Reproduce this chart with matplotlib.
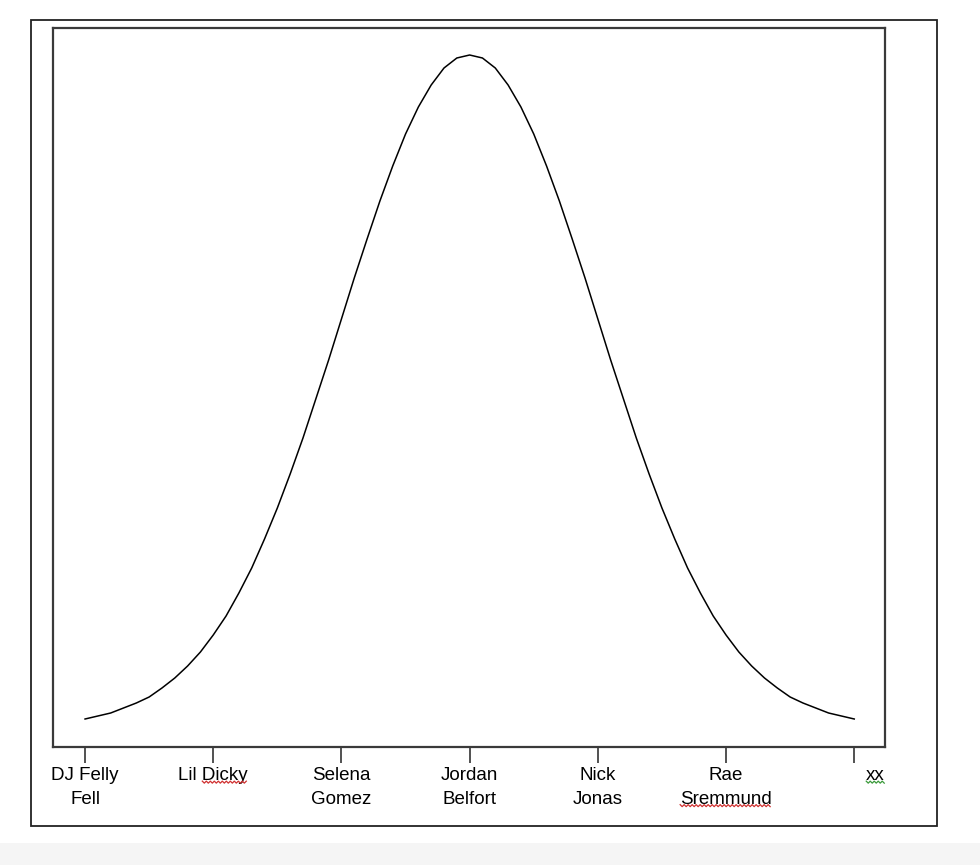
import matplotlib
matplotlib.use("Agg")
import matplotlib.pyplot as plt
import matplotlib.transforms as mtransforms
from matplotlib.patches import Rectangle
import numpy as np

# tick categories along the bottom
names = ["DJ Felly\nFell", "Lil Dicky", "Selena\nGomez", "Jordan\nBelfort",
         "Nick\nJonas", "Rae\nSremmund", "xx"]
positions = [0, 1, 2, 3, 4, 5, 6]

# bell curve, one reading every 0.1 tick
curve_x = [i / 10 for i in range(61)]
curve_y = [28, 31, 34, 39, 44, 50, 59, 69, 81, 95,
           112, 131, 154, 179, 208, 239, 273, 309, 348, 387,
           428, 469, 508, 546, 581, 613, 640, 662, 679, 689,
           692,
           689, 679, 662, 640, 613, 581, 546, 508, 469, 428,
           387, 348, 309, 273, 239, 208, 179, 154, 131, 112,
           95, 81, 69, 59, 50, 44, 39, 34, 31, 28]

plt.rcParams["font.family"] = ["Liberation Sans", "DejaVu Sans"]

W, H = 980, 865
fig = plt.figure(figsize=(W / 100, H / 100), dpi=100)
fig.patch.set_facecolor("white")

# light grey strip at the very bottom of the screenshot
fig.patches.append(Rectangle((0, 0), 1, 22 / H, transform=fig.transFigure,
                             facecolor="#f5f5f5", edgecolor="none", zorder=0))
# outer frame
fig.patches.append(Rectangle((31 / W, 1 - 826 / H), (937 - 31) / W, (826 - 20) / H,
                             transform=fig.transFigure, facecolor="none",
                             edgecolor="#222222", linewidth=1.3, zorder=1))

ax = fig.add_axes([53 / W, 1 - 747 / H, (885 - 53) / W, (747 - 28) / H])
ax.plot(curve_x, curve_y, "-", color="black", linewidth=1.1)
ax.set_xlim(-0.25, 6.24)
ax.set_ylim(0, 719)
ax.set_yticks([])
ax.set_xticks(positions)
ax.set_xticklabels(names, fontsize=13.5, linespacing=1.5)
ax.tick_params(axis="x", direction="out", length=11.5, width=1.1, pad=3, color="#222222")
for s in ax.spines.values():
    s.set_color("#3a3a3a")
    s.set_linewidth(1.6)

labels = ax.get_xticklabels()
# the "xx" label sits a bit right of its tick in the original
labels[6].set_horizontalalignment("left")
labels[6].set_transform(labels[6].get_transform()
                        + mtransforms.ScaledTranslation(0.12, 0, fig.dpi_scale_trans))

# spell-check squiggles under some words
fig.canvas.draw()
rend = fig.canvas.get_renderer()


def squiggle(x0, x1, y, color):
    xs = np.arange(x0, x1 + 0.1, 2.0)
    ys = y + np.where(np.arange(len(xs)) % 2 == 0, 1.0, -1.0)
    fig.add_artist(plt.Line2D(xs / W, ys / H, transform=fig.transFigure,
                              color=color, linewidth=0.9))


def text_width(s, lab):
    t = plt.Text(0, 0, s, fontsize=lab.get_fontsize(), fontfamily=lab.get_fontfamily())
    t.set_figure(fig)
    return t.get_window_extent(rend).width


def word_span(lab, line_idx, prefix, word):
    bb = lab.get_window_extent(rend)
    lines = lab.get_text().split("\n")
    lw = text_width(lines[line_idx], lab)
    pw = text_width(prefix, lab) if prefix else 0
    ww = text_width(word, lab)
    cx = (bb.x0 + bb.x1) / 2
    left = cx - lw / 2 + pw
    line_h = bb.height / len(lines)
    y = bb.y1 - line_h * (line_idx + 1) + 2
    return left, left + ww, y


x0, x1, y = word_span(labels[1], 0, "Lil ", "Dicky")
squiggle(x0, x1, y, "#d03030")
x0, x1, y = word_span(labels[5], 1, "", "Sremmund")
squiggle(x0, x1, y, "#d03030")
x0, x1, y = word_span(labels[6], 0, "", "xx")
squiggle(x0, x1, y, "#3a9a3a")

fig.savefig("out.png", dpi=100, facecolor=fig.get_facecolor())
